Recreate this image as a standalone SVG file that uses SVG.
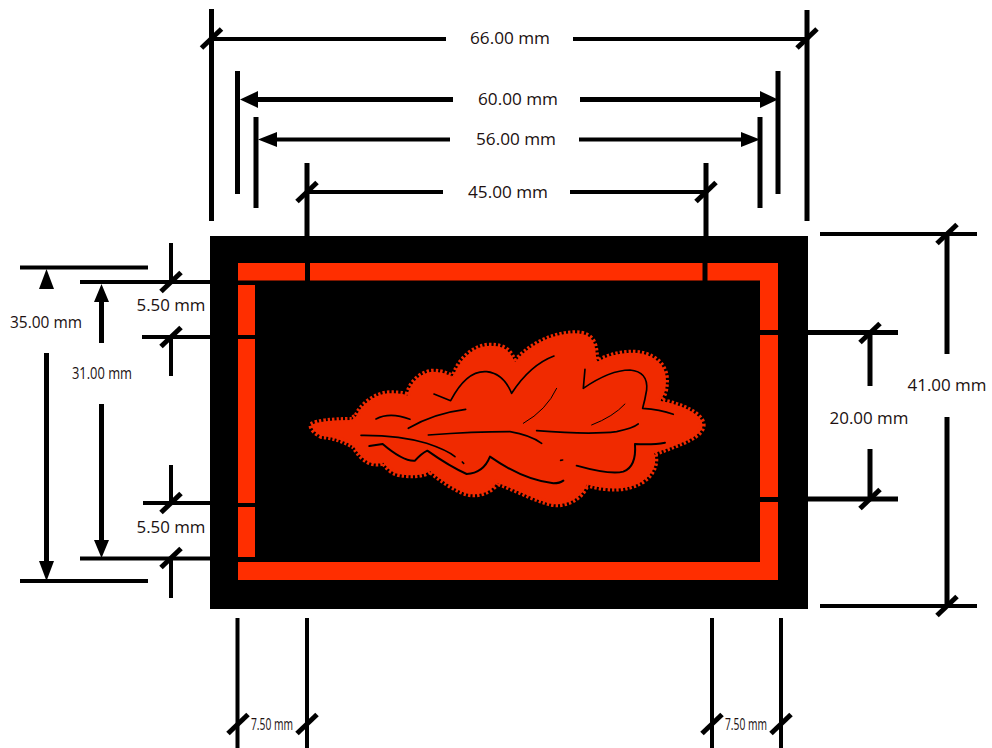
<svg xmlns="http://www.w3.org/2000/svg" width="992" height="748" viewBox="0 0 992 748">
<style>
.l{stroke:#000;fill:none}
.w5{stroke-width:5}
.w4{stroke-width:4}
.s{stroke:#000;stroke-width:5;fill:none}
.a{fill:#000}
.r{fill:#ff2e00}
.v{fill:none;stroke:#000;stroke-width:5;stroke-linecap:round;stroke-linejoin:round}
.t{font-family:"Open Sans","Noto Sans",sans-serif;font-size:16px;fill:#201010;text-anchor:middle}
</style>
<defs>
<path id="slash" class="s" d="M-10,9.500L10,-9.500"/>
<path id="leafshape" d="M64,315 Q90,300 185,300 Q192,292 200,287 C215,252 260,220 300,220 S345,224 352,227 C362,182 400,155 430,155 S480,167 490,172 C505,122 550,77 600,77 S660,97 675,127 C710,82 780,42 850,40 S915,82 920,127 C960,102 1020,92 1060,102 S1128,140 1128,180 S1118,232 1108,242 C1170,252 1238,282 1238,315 S1180,368 1093,400 C1103,430 1088,468 1050,488 S960,513 890,493 C880,528 840,553 800,553 S680,508 620,488 C610,508 580,525 545,523 S450,478 420,453 C400,468 360,468 330,463 S290,438 280,428 Q230,443 192,380 Q150,353 95,348 Q67,335 64,315 Z"/>
</defs>
<rect width="992" height="748" fill="#fff"/>
<g id="plate">
<rect x="210" y="236" width="598" height="373" fill="#000"/>
<path class="r" d="M238,263H305V280.500H238Z M310,263H702.500V280.500H310Z M707.500,263H778V330H760V280.500H707.500Z M760,335H778V497H760Z M760,502H778V580H238V562H760Z M238,285H255V335H238Z M238,339H255V503H238Z M238,507H255V557H238Z"/>
</g>
<g id="leaf" transform="translate(290,320) scale(0.3333)">
<use href="#leafshape" fill="#f02a00"/>
<use href="#leafshape" fill="none" stroke="#f02a00" stroke-width="18" stroke-dasharray="7 6"/>
<path class="v" d="M258,297Q300,275 360,298"/>
<path class="v" d="M355,325Q430,280 527,268"/>
<path class="v" d="M432,222L482,242Q530,150 590,155Q640,160 665,220Q720,135 792,108"/>
<path class="v" d="M885,148L880,205Q960,150 1020,150Q1075,155 1070,210Q1065,240 1058,265Q1110,268 1150,283"/>
<path class="v" style="stroke-width:3" d="M800,205Q770,270 700,310"/>
<path class="v" style="stroke-width:3" d="M1005,252Q970,290 905,315"/>
<path class="v" d="M213,346Q330,345 410,370Q470,390 495,410"/>
<path class="v" d="M415,345Q550,335 660,335Q720,345 755,370"/>
<path class="v" d="M740,332Q900,345 980,335Q1030,325 1045,312"/>
<path class="v" style="stroke-width:6" d="M238,378L278,372Q340,425 375,422Q395,400 412,392Q480,440 530,462Q580,460 600,410Q700,480 790,490Q810,490 820,482"/>
<path class="v" style="stroke-width:6" d="M860,437Q960,465 1000,455Q1040,440 1035,372Q1090,375 1125,368"/>
<path class="v" d="M517,426L521,430M812,421L818,420"/>
</g>
<g id="connectors">
<path class="l w5" d="M211.500,9V221M807,10V221"/>
<path class="l w4" d="M211,39H446M573,39H807"/>
<use href="#slash" x="211.500" y="38.500"/><use href="#slash" x="807" y="38.500"/>
<path class="l w5" d="M237.500,71V194M778,71V194M256,99.500H453M580,99.500H762"/>
<path class="a" d="M240,99.500L258,91V108ZM778,99.500L760,91V108Z"/>
<path class="l w5" d="M256,117V208M760,117V208"/>
<path class="l w4" d="M274,139.500H450M579,139.500H742"/>
<path class="a" d="M258,139.500L277,132V147ZM760,139.500L741,132V147Z"/>
<path class="l w5" d="M307,163V236M706,163V236"/>
<path class="l w4" d="M307,192H443M570,192H706"/>
<use href="#slash" x="307" y="192"/><use href="#slash" x="706" y="192"/>
<path class="l w4" d="M20,267.500H148M20,581H148"/>
<path class="l w5" d="M46.500,353V562"/>
<path class="a" d="M46.500,269L54,289H39ZM46.500,581L54,561H39Z"/>
<path class="l w4" d="M80,282H210M80,558.500H210"/>
<path class="l w5" d="M101.500,300V343M101.500,404V542"/>
<path class="a" d="M101.500,284L109,302H94ZM101.500,558L109,540H94Z"/>
<path class="l w4" d="M171,243V282M171,337V376M171,465V503M171,558V598M142,337H210M143,503H210"/>
<use href="#slash" x="171" y="282"/><use href="#slash" x="171" y="337"/><use href="#slash" x="171" y="503"/><use href="#slash" x="171" y="558"/>
<path class="l w4" d="M820,234H977M820,606H977"/>
<path class="l w5" d="M947,234V354M947,417V606"/>
<use href="#slash" x="947" y="234"/><use href="#slash" x="947" y="606"/>
<path class="l w5" d="M808,332.500H898M808,499H898M870,333V386M870,449V499"/>
<use href="#slash" x="870" y="333"/><use href="#slash" x="870" y="499"/>
<path class="l w4" d="M237.500,618V748M307,618V748M712,618V748M781,618V748"/>
<use href="#slash" x="238" y="724"/><use href="#slash" x="307" y="724"/><use href="#slash" x="712" y="724"/><use href="#slash" x="781" y="724"/>
</g>
<g id="labels">
<text class="t" x="510" y="44" textLength="80" lengthAdjust="spacingAndGlyphs">66.00 mm</text>
<text class="t" x="518" y="105" textLength="80" lengthAdjust="spacingAndGlyphs">60.00 mm</text>
<text class="t" x="516" y="145" textLength="80" lengthAdjust="spacingAndGlyphs">56.00 mm</text>
<text class="t" x="508" y="198" textLength="80" lengthAdjust="spacingAndGlyphs">45.00 mm</text>
<text class="t" x="46" y="328" textLength="72" lengthAdjust="spacingAndGlyphs">35.00 mm</text>
<text class="t" x="102" y="379" textLength="60" lengthAdjust="spacingAndGlyphs">31.00 mm</text>
<text class="t" x="171" y="311" textLength="69" lengthAdjust="spacingAndGlyphs">5.50 mm</text>
<text class="t" x="171" y="533" textLength="69" lengthAdjust="spacingAndGlyphs">5.50 mm</text>
<text class="t" x="947" y="391" textLength="79" lengthAdjust="spacingAndGlyphs">41.00 mm</text>
<text class="t" x="869" y="424" textLength="79" lengthAdjust="spacingAndGlyphs">20.00 mm</text>
<text class="t" x="272" y="730" textLength="42" lengthAdjust="spacingAndGlyphs">7.50 mm</text>
<text class="t" x="746" y="730" textLength="42" lengthAdjust="spacingAndGlyphs">7.50 mm</text>
</g>
</svg>
